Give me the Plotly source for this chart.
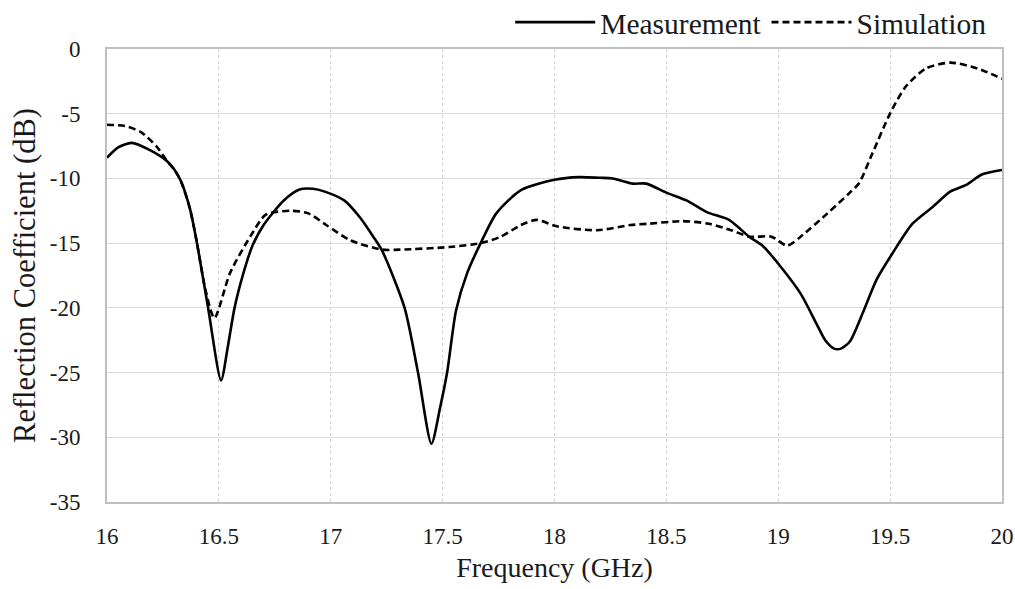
import plotly.graph_objects as go

meas_f = [16.0, 16.05, 16.11, 16.19, 16.27, 16.30, 16.33, 16.37, 16.40, 16.45, 16.51, 16.54, 16.57, 16.61,
          16.65, 16.70, 16.79, 16.86, 16.92, 16.97, 17.06, 17.13, 17.19, 17.23, 17.33, 17.39, 17.45,
          17.49, 17.52, 17.56, 17.61, 17.67, 17.74, 17.85, 18.0,
          18.11, 18.2, 18.26, 18.35, 18.41, 18.5, 18.59, 18.68, 18.78, 18.87, 18.93, 19.01, 19.1,
          19.17, 19.21, 19.25, 19.28, 19.32, 19.38, 19.44, 19.51, 19.6, 19.69, 19.77, 19.84, 19.91, 20.0]
meas_db = [-8.4, -7.6, -7.25, -7.8, -8.7, -9.3, -10.2, -12.3, -14.8, -19.8, -25.6, -23.0, -20.0, -17.3,
           -15.2, -13.6, -11.7, -10.85, -10.8, -11.0, -11.7, -13.0, -14.5, -15.6, -20.0, -25.0, -30.5,
           -27.6, -25.0, -20.2, -17.3, -15.0, -12.7, -10.9, -10.1,
           -9.9, -9.95, -10.0, -10.4, -10.4, -11.1, -11.7, -12.6, -13.2, -14.5, -15.2, -16.8, -18.9,
           -21.2, -22.5, -23.15, -23.15, -22.6, -20.3, -17.8, -15.8, -13.5, -12.2, -11.0, -10.5, -9.7, -9.35]

sim_f = [16.0, 16.08, 16.15, 16.22, 16.27, 16.30, 16.33, 16.37, 16.40, 16.44, 16.48, 16.55, 16.64,
         16.71, 16.82, 16.9, 16.98, 17.09, 17.23, 17.31, 17.53, 17.67, 17.76, 17.85, 17.92, 18.01,
         18.19, 18.34, 18.42, 18.57, 18.69, 18.79, 18.87, 18.97, 19.04, 19.1, 19.22, 19.32, 19.36,
         19.42, 19.5, 19.57, 19.66, 19.77, 19.89, 20.0]
sim_db = [-5.85, -5.95, -6.4, -7.5, -8.7, -9.3, -10.2, -12.3, -14.8, -18.6, -20.8, -17.3, -14.5,
          -12.8, -12.5, -12.7, -13.6, -14.8, -15.5, -15.5, -15.3, -15.0, -14.5, -13.6, -13.2, -13.7,
          -14.0, -13.6, -13.5, -13.3, -13.5, -14.0, -14.5, -14.5, -15.2, -14.5, -12.7, -11.1, -10.4,
          -8.1, -4.97, -2.9, -1.5, -1.05, -1.5, -2.3]

x_ticks = [16, 16.5, 17, 17.5, 18, 18.5, 19, 19.5, 20]
x_labels = ["16", "16.5", "17", "17.5", "18", "18.5", "19", "19.5", "20"]
y_ticks = [0, -5, -10, -15, -20, -25, -30, -35]
y_labels = ["0", "-5", "-10", "-15", "-20", "-25", "-30", "-35"]

font = "Liberation Serif, Times New Roman, serif"
txt = "#1a1a1a"

fig = go.Figure()
fig.add_trace(go.Scatter(x=meas_f, y=meas_db, mode="lines", name="Measurement",
                         line=dict(color="black", width=2.6, shape="spline", smoothing=0.7)))
fig.add_trace(go.Scatter(x=sim_f, y=sim_db, mode="lines", name="Simulation",
                         line=dict(color="black", width=2.6, dash="7px,4px", shape="spline", smoothing=0.7)))

fig.update_layout(
    width=1015, height=589,
    margin=dict(l=107, r=13, t=49, b=87, autoexpand=False),
    paper_bgcolor="white", plot_bgcolor="white",
    font=dict(family=font, size=23, color=txt),
    showlegend=True,
    legend=dict(orientation="h", x=0.989, xanchor="right", y=1.116, yanchor="top",
                font=dict(family=font, size=29.5, color=txt), itemwidth=80,
                bgcolor="rgba(0,0,0,0)", tracegroupgap=0),
    xaxis=dict(range=[16, 20], tickvals=x_ticks, ticktext=x_labels,
               showgrid=True, gridcolor="#d0d0d0", griddash="dot", gridwidth=1,
               showline=True, linecolor="#c0c0c0", linewidth=2, mirror=True,
               ticks="", ticklabelstandoff=12, zeroline=False, automargin=False,
               tickfont=dict(family=font, size=23, color=txt),
               title=dict(text="Frequency (GHz)", font=dict(family=font, size=28, color=txt), standoff=10)),
    yaxis=dict(range=[-35, 0], tickvals=y_ticks, ticktext=y_labels,
               showgrid=True, gridcolor="#dadada", gridwidth=1,
               showline=True, linecolor="#c0c0c0", linewidth=2, mirror=True,
               ticks="", ticklabelstandoff=20, zeroline=False, automargin=False,
               tickfont=dict(family=font, size=23, color=txt),
               title=dict(text="Reflection Coefficient (dB)", font=dict(family=font, size=30.5, color=txt), standoff=5)),
)

fig.write_html("out.html")
